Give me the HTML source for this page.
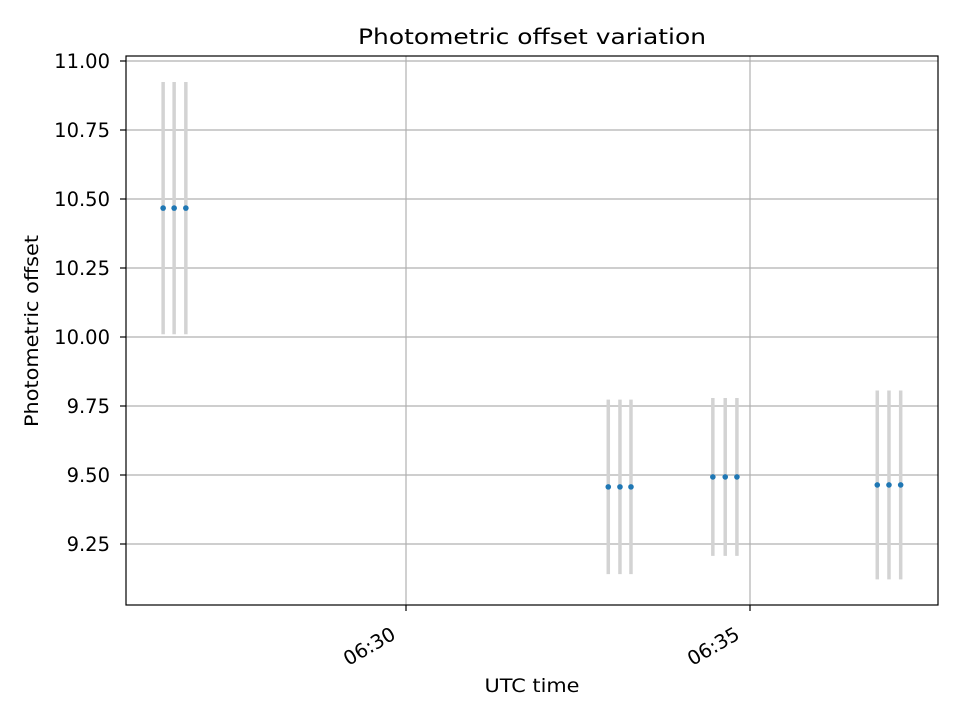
<!DOCTYPE html>
<html><head><meta charset="utf-8"><style>
html,body{margin:0;padding:0;background:#fff;}
svg{display:block;font-family:"DejaVu Sans","Liberation Sans",sans-serif;}
</style></head><body>
<svg id="chart" width="960" height="720">
<rect width="960" height="720" fill="#fff"/>
<g id="grid"></g>
<g id="bars"></g>
<g id="pts"></g>
<rect x="126" y="56" width="812" height="549" fill="none" stroke="#000" stroke-width="1.2"/>
<g id="axes"></g>
<text x="532" y="44" text-anchor="middle" font-size="21" textLength="348" lengthAdjust="spacingAndGlyphs">Photometric offset variation</text>
<text x="532" y="692" text-anchor="middle" font-size="19" textLength="95" lengthAdjust="spacingAndGlyphs">UTC time</text>
<text transform="translate(38,331) rotate(-90)" text-anchor="middle" font-size="19" textLength="192" lengthAdjust="spacingAndGlyphs">Photometric offset</text>
</svg>
<script>
// minutes relative to 06:30
const times = [-3.53,-3.37,-3.20, 2.94,3.11,3.27, 4.46,4.64,4.81, 6.85,7.02,7.19];
const values = [10.467,10.467,10.467, 9.457,9.457,9.457, 9.493,9.493,9.493, 9.464,9.464,9.464];
const errors = [0.457,0.457,0.457, 0.316,0.316,0.316, 0.286,0.286,0.286, 0.342,0.342,0.342];
const yTicks = [9.25,9.5,9.75,10.0,10.25,10.5,10.75,11.0];
const yTickLabels = ["9.25","9.50","9.75","10.00","10.25","10.50","10.75","11.00"];
const xTicks = [0,5];
const xTickLabels = ["06:30","06:35"];

const L=126,R=938,T=56,B=605;
const xs = m => 406 + m*68.8;
const ys = v => 61 + (11.0 - v)*276;
const NS="http://www.w3.org/2000/svg";
function mk(tag, attrs, parent){const e=document.createElementNS(NS,tag);for(const k in attrs)e.setAttribute(k,attrs[k]);parent.appendChild(e);return e;}
const grid=document.getElementById('grid'), axes=document.getElementById('axes');
const bars=document.getElementById('bars'), pts=document.getElementById('pts');
yTicks.forEach((v,i)=>{
  const y=ys(v);
  const g=mk('line',{x1:L,x2:R,y1:y,y2:y,stroke:'#b0b0b0','stroke-width':1.2},grid);
  
  
  const t=mk('line',{x1:L-6,x2:L,y1:y,y2:y,stroke:'#000','stroke-width':1.2},axes);
  
  
  const l=mk('text',{x:L-16,y:y+7,'text-anchor':'end','font-size':19.5},axes);
  l.textContent=yTickLabels[i];
  
  
});
xTicks.forEach((m,i)=>{
  const x=xs(m);
  const g=mk('line',{x1:x,x2:x,y1:T,y2:B,stroke:'#b0b0b0','stroke-width':1.2},grid);
  
  
  const t=mk('line',{x1:x,x2:x,y1:B,y2:B+6,stroke:'#000','stroke-width':1.2},axes);
  
  
  const l=mk('text',{transform:`translate(${x-9},${B+33}) rotate(-30)`,'text-anchor':'end','font-size':19.5},axes);
  l.textContent=xTickLabels[i];
  
  
});
times.forEach((m,i)=>{
  const x=xs(m);
  const b=mk('line',{x1:x,x2:x,y1:ys(values[i]+errors[i]),y2:ys(values[i]-errors[i]),stroke:'#d3d3d3','stroke-width':3.5},bars);
  
  
  const c=mk('circle',{cx:x,cy:ys(values[i]),r:2.8,fill:'#1f77b4'},pts);
  
  
});
</script>
</body></html>
